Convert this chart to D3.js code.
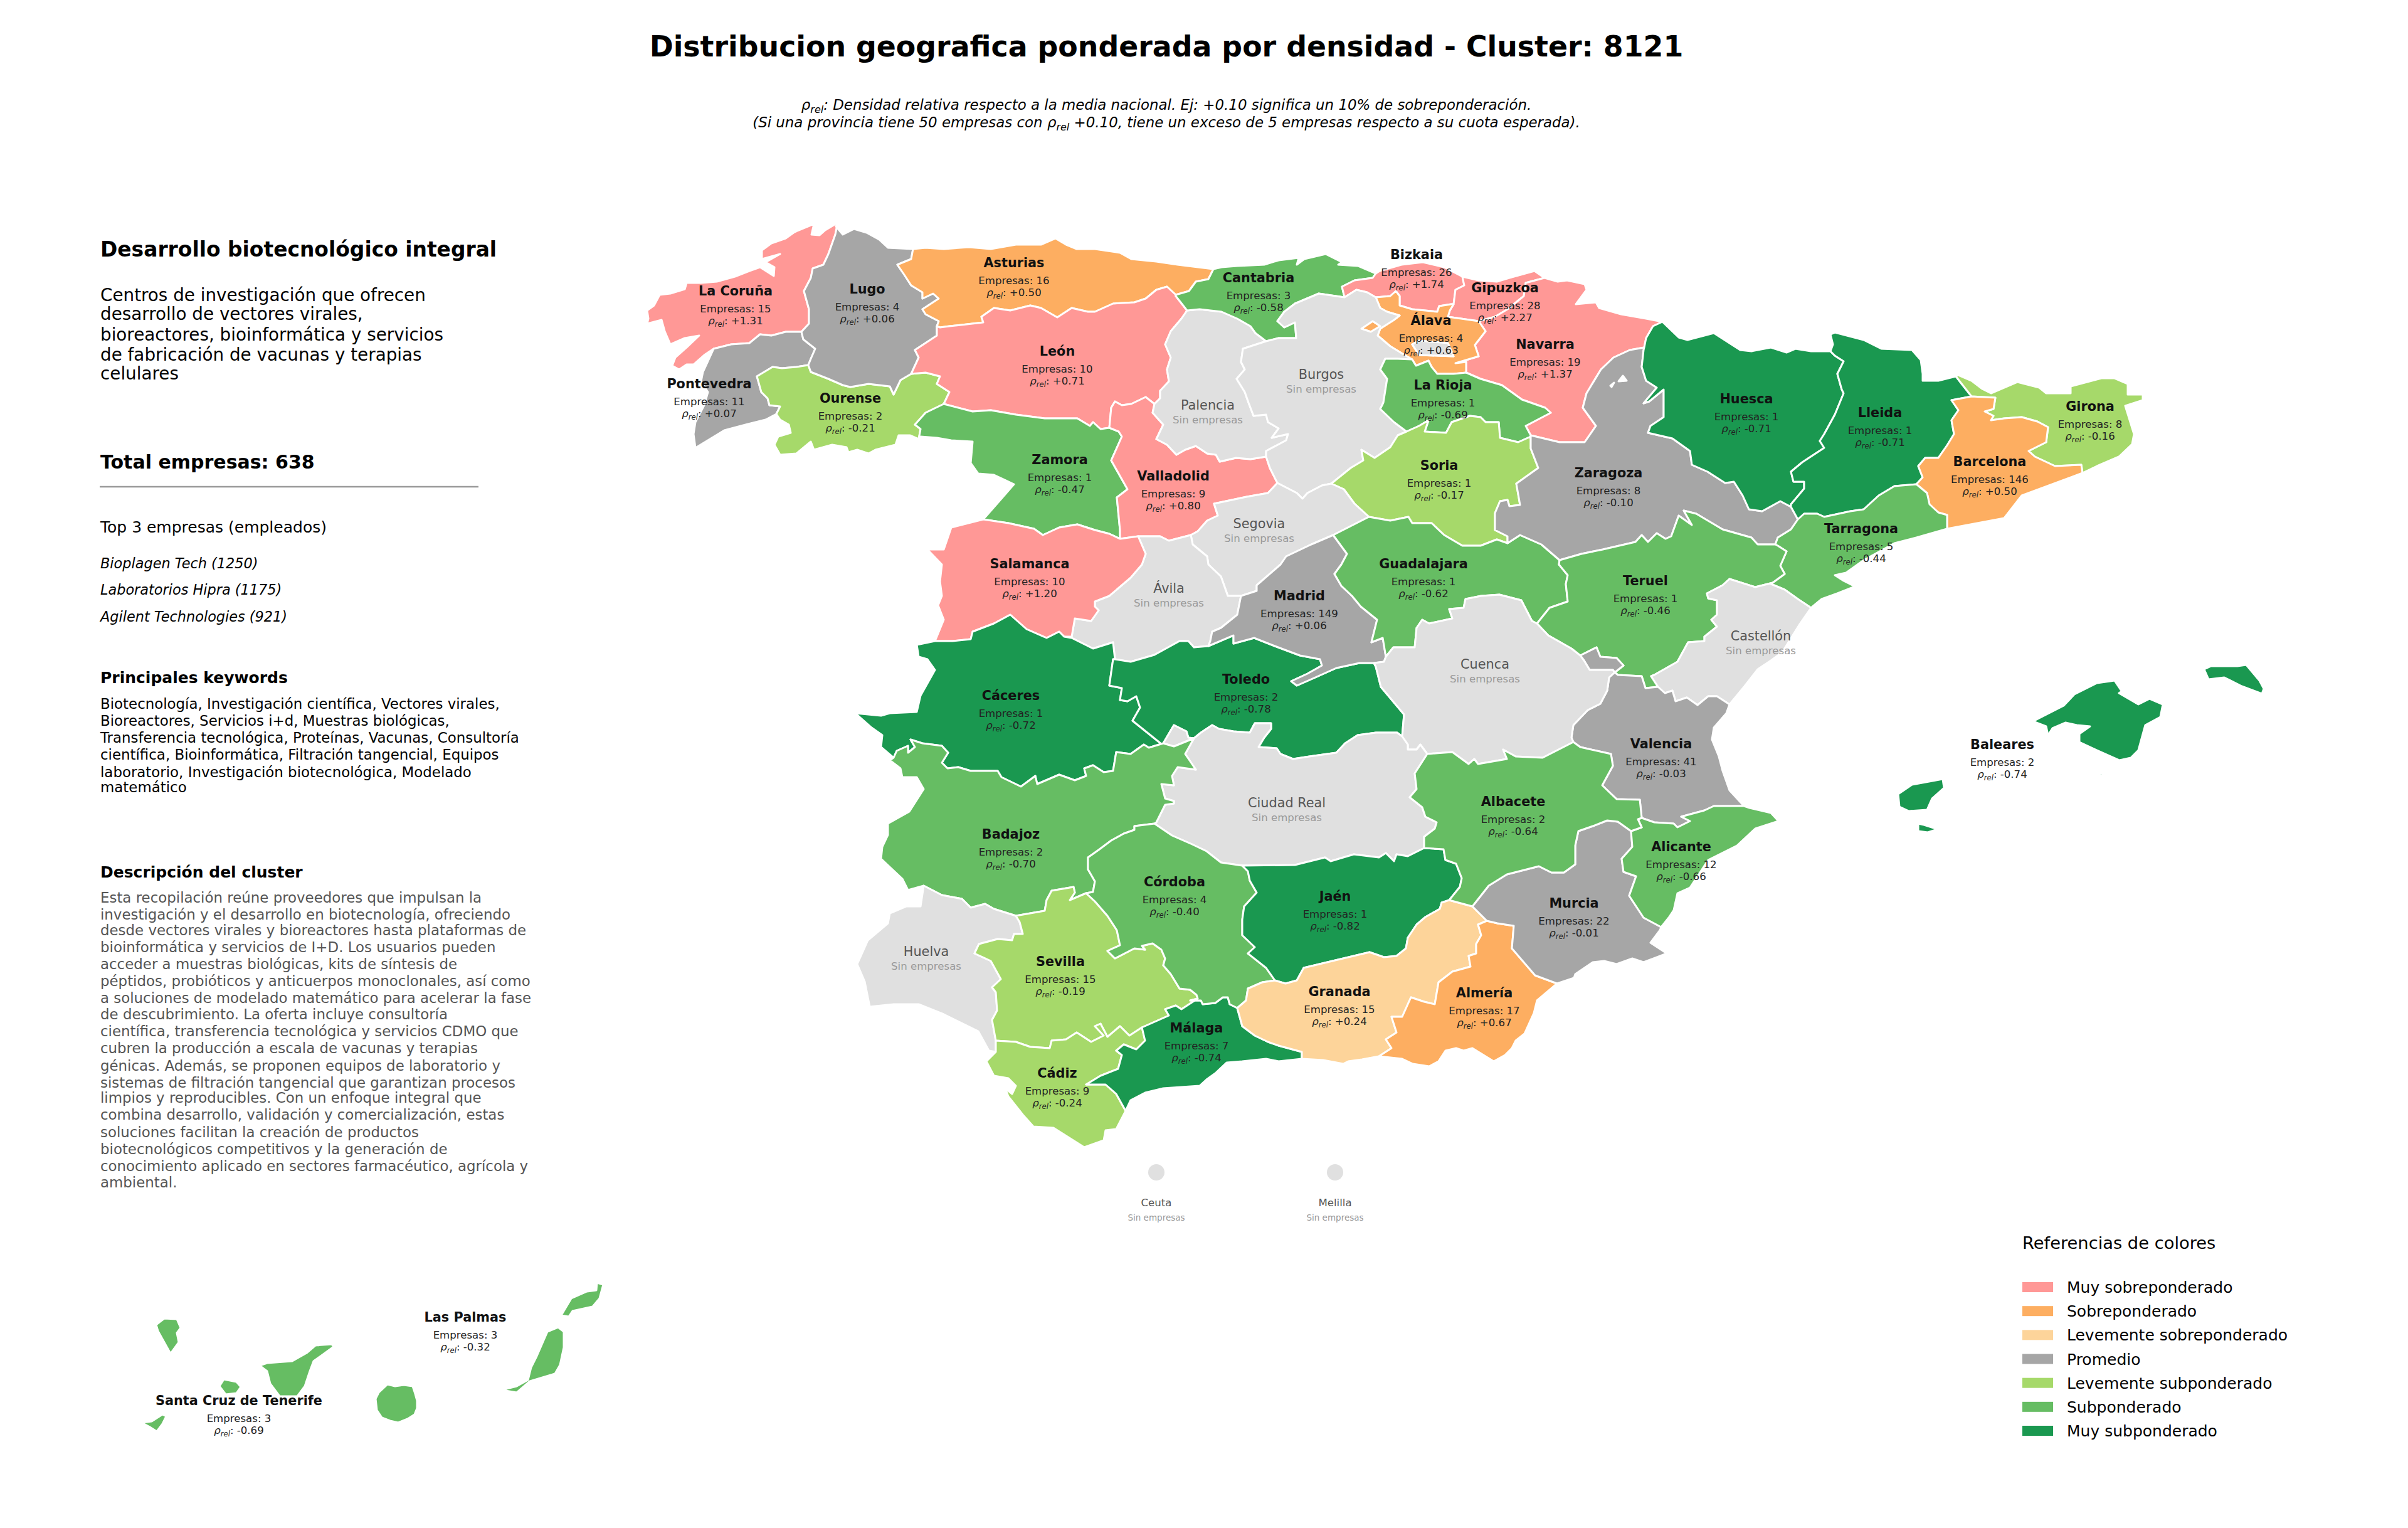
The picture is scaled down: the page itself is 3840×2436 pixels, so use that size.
<!DOCTYPE html>
<html>
<head>
<meta charset="utf-8">
<script src="https://cdn.jsdelivr.net/npm/d3@7"></script>
<style>
  body { margin: 0; background: #fff; }
  text { font-family: "DejaVu Sans", sans-serif; }
</style>
</head>
<body>
<svg id="chart" width="3840" height="2436"></svg>
<script>
// Province values
const provinces = ["La Coruña","Pontevedra","Ourense","Lugo","Asturias","León","Zamora","Valladolid","Palencia","Cantabria","Bizkaia","Gipuzkoa","Navarra","Álava","Burgos","La Rioja","Soria","Segovia","Ávila","Salamanca","Cáceres","Toledo","Madrid","Guadalajara","Zaragoza","Huesca","Lleida","Girona","Barcelona","Tarragona","Teruel","Castellón","Valencia","Cuenca","Ciudad Real","Badajoz","Huelva","Sevilla","Cádiz","Málaga","Córdoba","Jaén","Granada","Almería","Murcia","Alicante","Albacete","Baleares","Las Palmas","Santa Cruz de Tenerife"];
const empresas = [15,11,2,4,16,10,1,9,0,3,26,28,19,4,0,1,1,0,0,10,1,2,149,1,8,1,1,8,146,5,1,0,41,0,0,2,0,15,9,7,4,1,15,17,22,12,2,2,3,3];
const rhoRel = [1.31,0.07,-0.21,0.06,0.50,0.71,-0.47,0.80,null,-0.58,1.74,2.27,1.37,0.63,null,-0.69,-0.17,null,null,1.20,-0.72,-0.78,0.06,-0.62,-0.10,-0.71,-0.71,-0.16,0.50,-0.44,-0.46,null,-0.03,null,null,-0.70,null,-0.19,-0.24,-0.74,-0.40,-0.82,0.24,0.67,-0.01,-0.66,-0.64,-0.74,-0.32,-0.69];
const cities = ["Ceuta","Melilla"];

const legendLabels = ["Muy sobreponderado","Sobreponderado","Levemente sobreponderado","Promedio","Levemente subponderado","Subponderado","Muy subponderado"];
const legendColors = ["#ff9896","#fdae61","#fdd49a","#a6a6a6","#a6d96a","#66bd63","#1a9850"];
const noDataColor = "#e0e0e0";

const topCompanies = ["Bioplagen Tech (1250)","Laboratorios Hipra (1175)","Agilent Technologies (921)"];
const introLines = ["Centros de investigación que ofrecen","desarrollo de vectores virales,","bioreactores, bioinformática y servicios","de fabricación de vacunas y terapias","celulares"];
const keywordLines = ["Biotecnología, Investigación científica, Vectores virales,","Bioreactores, Servicios i+d, Muestras biológicas,","Transferencia tecnológica, Proteínas, Vacunas, Consultoría","científica, Bioinformática, Filtración tangencial, Equipos","laboratorio, Investigación biotecnológica, Modelado","matemático"];
const descriptionLines = ["Esta recopilación reúne proveedores que impulsan la","investigación y el desarrollo en biotecnología, ofreciendo","desde vectores virales y bioreactores hasta plataformas de","bioinformática y servicios de I+D. Los usuarios pueden","acceder a muestras biológicas, kits de síntesis de","péptidos, probióticos y anticuerpos monoclonales, así como","a soluciones de modelado matemático para acelerar la fase","de descubrimiento. La oferta incluye consultoría","científica, transferencia tecnológica y servicios CDMO que","cubren la producción a escala de vacunas y terapias","génicas. Además, se proponen equipos de laboratorio y","sistemas de filtración tangencial que garantizan procesos","limpios y reproducibles. Con un enfoque integral que","combina desarrollo, validación y comercialización, estas","soluciones facilitan la creación de productos","biotecnológicos competitivos y la generación de","conocimiento aplicado en sectores farmacéutico, agrícola y","ambiental."];

// Shared province borders (map units)
const borders = {
  coast_coru:"1336,355 1316,367 1307,375 1294,374 1298,357 1281,364 1267,370 1253,380 1230,388 1215,399 1215,413 1244,405 1221,418 1235,426 1234,440 1212,426 1195,432 1172,441 1143,449 1118,451 1095,451 1092,461 1069,468 1052,470 1043,487 1032,495 1034,508 1032,516 1055,510 1060,528 1069,549 1092,539 1115,535 1095,554 1077,570 1072,583 1083,589 1095,581 1106,581 1123,566 1138,556",
  coru_pont:"1138,556 1166,549 1195,547 1212,533 1230,535 1253,529 1278,529",
  coru_lugo:"1278,529 1290,516 1290,493 1282,464 1293,443 1296,428 1313,422 1321,405 1332,374 1336,355",
  coast_pont:"1138,556 1121,593 1118,608 1129,625 1123,646 1109,673 1106,692 1109,714 1132,700 1155,686 1189,677 1221,669 1238,660",
  pont_ours:"1238,660 1244,648 1227,646 1224,635 1214,625 1207,600 1232,585 1247,587 1270,585 1289,582",
  pont_lugo:"1289,582 1293,572 1300,556 1281,541 1278,529",
  port_ours:"1238,660 1244,669 1258,677 1261,690 1241,696 1235,709 1244,725 1270,723 1293,704 1298,717 1327,709 1350,713 1353,721 1367,717 1385,723 1396,717 1428,709 1433,694 1451,694 1465,700",
  ours_zam:"1465,700 1468,684 1459,677 1476,658 1505,644",
  ours_leon:"1505,644 1514,625 1494,612 1499,600 1476,594 1453,596",
  ours_lugo:"1453,596 1436,606 1425,629 1419,616 1385,612 1356,617 1344,614 1321,604 1293,593 1289,582",
  coast_lugo:"1336,355 1333,361 1344,374 1362,365 1382,371 1402,382 1416,395 1456,397",
  lugo_ast:"1456,397 1453,413 1431,422 1442,438 1453,455 1471,466 1471,476 1488,468 1497,476 1471,493 1476,501 1497,512 1494,520",
  lugo_leon:"1494,520 1494,535 1459,558 1465,570 1453,596",
  coast_ast:"1456,397 1476,395 1505,397 1545,394 1580,397 1620,390 1660,390 1683,380 1700,390 1717,397 1746,397 1786,403 1804,413 1844,417 1878,422 1935,429",
  ast_cant:"1935,429 1927,445 1907,449 1896,464 1875,470",
  ast_leon:"1875,470 1861,457 1844,462 1827,476 1809,482 1775,484 1746,497 1735,497 1709,491 1686,506 1660,491 1643,487 1611,495 1585,491 1565,505 1568,514 1514,520 1499,522 1494,520",
  cant_leon:"1875,470 1875,472 1893,495",
  leon_pal:"1893,495 1884,508 1867,528 1858,549 1867,570 1861,589 1864,608 1850,623 1850,635 1841,644",
  leon_vall:"1841,644 1827,633 1804,644 1789,646 1778,640 1772,650 1769,682",
  leon_zam:"1769,682 1755,684 1743,673 1738,679 1718,667 1666,667 1620,661 1580,654 1551,656 1505,644",
  zam_vall:"1769,682 1784,688 1789,696 1772,734 1798,780 1781,793 1786,845 1786,859",
  zam_sal:"1786,859 1769,851 1746,845 1718,836 1689,841 1663,853 1649,843 1608,834 1568,828",
  zam_port:"1568,828 1597,795 1617,772 1585,757 1560,755 1548,738 1551,704 1517,702 1494,698 1468,696 1465,700",
  pal_vall:"1841,644 1838,658 1855,677 1844,700 1861,709 1876,725 1890,717 1907,711 1925,723 1939,725 1945,736 1971,730 1994,732 2019,728",
  vall_burg:"2019,728 2025,746 2037,770",
  cant_pal:"1893,495 1913,493 1948,497 1973,508 1994,520 2002,531 2019,544",
  pal_burg:"2019,544 1982,556 1979,577 1985,589 1972,604 1985,625 1991,642 1999,663 2019,661 2022,673 2039,683 2028,698 2054,692 2051,702 2019,719 2019,728",
  coast_cant:"1935,429 1948,426 1973,424 2016,422 2039,415 2071,411 2068,422 2080,413 2114,405 2140,418 2134,422 2166,424 2194,436",
  cant_biz:"2194,436 2189,443 2160,447 2140,457 2144,474",
  cant_burg:"2144,474 2103,468 2065,484 2048,497 2037,512 2048,522 2065,514 2067,539 2039,539 2019,544",
  coast_biz:"2194,436 2200,432 2235,422 2269,418 2303,426 2332,441",
  biz_gip:"2332,441 2335,455 2321,462 2318,485",
  biz_alv:"2318,485 2314,485 2295,488 2292,497 2252,493 2232,487 2232,472 2226,464 2217,472 2194,474",
  biz_burg:"2194,474 2180,466 2163,462 2144,474",
  coast_gip:"2332,441 2358,447 2387,449 2407,443 2447,432 2463,443",
  gip_nav:"2463,443 2433,451 2430,472 2404,493 2384,505 2358,512",
  gip_alv:"2358,512 2309,505 2312,495 2318,485",
  coast_nav:"2463,443 2484,449 2499,447 2527,453 2530,462 2513,485 2545,482 2550,491 2585,501 2625,508 2651,513",
  nav_hue:"2651,513 2636,520 2625,539 2622,554",
  nav_zar:"2622,554 2599,558 2573,570 2553,589 2530,627 2524,650 2545,679 2527,705 2487,705 2441,694",
  nav_rio:"2441,694 2433,679 2473,658 2464,650 2427,637 2395,614 2361,604 2338,594",
  nav_alv:"2338,594 2338,577 2321,579 2358,568 2352,550 2369,528 2358,512",
  alv_burg:"2194,474 2201,491 2212,497 2232,503 2223,510 2201,524 2197,535 2217,552 2240,566 2252,573",
  alv_rio:"2252,573 2258,583 2278,575 2283,585 2292,596 2318,596 2338,594",
  alv_blob:"2171,524 2189,512 2201,520 2186,529",
  alv_enclave:"2252,549 2263,543 2309,547 2318,568 2263,566",
  burg_rio:"2252,573 2229,572 2209,572 2201,589 2212,604 2209,623 2206,642 2201,652 2223,673 2243,688",
  burg_soria:"2243,688 2229,694 2217,713 2192,730 2171,717 2174,734 2154,746 2123,771",
  burg_seg:"2123,771 2108,774 2085,786 2077,795 2068,786 2037,770",
  rio_soria:"2243,688 2263,679 2278,670 2272,688 2306,690 2315,673 2344,663 2361,665 2369,673 2390,673 2392,698 2421,705 2441,696",
  soria_zar:"2441,696 2441,715 2453,746 2418,771 2424,805 2407,807 2404,797 2392,799 2384,818 2384,845 2404,855 2404,866",
  soria_guad:"2404,866 2387,860 2361,870 2332,870 2303,853 2283,834 2252,834 2246,824 2217,830 2183,824",
  soria_seg:"2183,824 2160,803 2143,780 2123,771",
  seg_mad:"1979,950 2004,942 2004,933 2042,900 2051,887 2091,868 2126,853",
  guad_seg:"2126,853 2183,824",
  seg_avila:"1979,950 1958,950 1947,919 1927,900 1925,887 1902,868 1899,853",
  val_seg:"1899,853 1910,847 1925,830 1942,822 1936,803 1988,792 2022,786 2037,770",
  sal_vall:"1786,859 1815,855",
  avila_vall:"1815,855 1850,855 1864,862 1899,853",
  avila_mad:"1979,950 1973,980 1947,1001 1933,1007 1930,1022 1927,1030",
  avila_tol:"1927,1030 1904,1032 1895,1022 1881,1022 1841,1044 1803,1055 1778,1051",
  avila_cac:"1778,1051 1775,1024 1743,1034 1709,1017 1697,1015",
  sal_avila:"1815,855 1827,883 1821,900 1803,921 1769,950 1746,959 1746,967 1752,973 1740,990 1714,986 1709,1015 1697,1015",
  sal_cac:"1491,1022 1519,1022 1548,1019 1551,1007 1585,994 1611,980 1637,1003 1669,1017 1689,1007 1697,1015",
  sal_port:"1491,1022 1505,988 1496,965 1502,950 1499,927 1502,900 1479,876 1505,876 1517,841 1568,828",
  cac_port:"1491,1022 1462,1028 1465,1047 1479,1051 1491,1068 1468,1109 1462,1135 1419,1137 1405,1141 1364,1137 1390,1160 1407,1172 1405,1191 1425,1208",
  cac_bad:"1425,1208 1430,1197 1448,1189 1448,1200 1459,1191 1452,1179 1471,1185 1502,1189 1512,1200 1502,1216 1511,1225 1528,1223 1548,1229 1591,1229 1597,1239 1628,1254 1651,1237 1654,1250 1689,1235 1714,1244 1732,1237 1729,1225 1743,1220 1760,1231 1775,1229 1780,1199 1803,1202 1824,1187 1832,1192 1852,1186",
  cac_tol:"1852,1186 1806,1149 1818,1128 1812,1110 1798,1118 1786,1116 1789,1097 1769,1093 1775,1051",
  mad_tol:"1927,1030 1967,1013 1967,1026 2000,1017 2033,1030 2073,1045 2105,1051 2108,1061 2085,1074 2059,1086 2068,1093 2102,1078 2131,1065 2168,1057 2191,1057",
  tol_cue:"2191,1057 2194,1063 2202,1095 2239,1139 2236,1174",
  tol_cr:"2236,1174 2228,1168 2194,1168 2165,1172 2145,1185 2131,1200 2088,1206 2062,1210 2042,1202 2036,1193 2007,1191 2016,1176 2027,1162 2027,1153 2001,1153 1993,1168 1967,1166 1944,1162 1933,1156 1915,1168 1904,1177",
  tol_wedge:"1904,1177 1895,1176 1892,1166 1872,1156 1855,1185",
  bad_wedge:"1855,1185 1872,1190 1904,1177",
  mad_guad:"2126,853 2148,883 2139,900 2128,915 2139,934 2156,950 2170,967 2196,988 2187,1024 2205,1017 2210,1047",
  mad_cue:"2210,1047 2207,1055 2191,1057",
  guad_cue:"2210,1047 2222,1032 2256,1032 2259,1001 2268,988 2279,994 2316,986 2311,971 2334,969 2337,955 2362,950 2391,948 2426,957 2443,990 2451,994",
  ter_guad:"2487,893 2486,900 2500,917 2497,931 2500,959 2471,969 2451,994",
  guad_zar:"2404,866 2424,853 2458,868 2487,893",
  hue_zar:"2622,554 2621,558 2618,585 2625,607 2642,618 2621,643 2630,640 2653,621 2653,665 2632,679 2628,690 2667,699 2695,719 2698,741 2723,752 2751,770 2765,768 2779,790 2789,812 2810,815 2839,799 2856,808",
  zar_hole1:"2581,608 2588,599 2594,607",
  zar_hole2:"2568,615 2574,610 2570,617",
  zar_lle:"2856,808 2867,828",
  zar_tar:"2867,828 2856,844 2835,857 2831,868",
  zar_ter:"2831,868 2803,868 2793,857 2747,844 2705,819 2685,814 2698,837 2677,822 2665,855 2656,859 2642,850 2628,864 2618,853 2608,864 2556,876 2522,883 2487,893",
  coast_hue:"2651,513 2677,538 2691,542 2733,531 2775,558 2793,560 2824,554 2849,562 2863,556 2888,560 2919,560",
  hue_lle:"2919,560 2926,567 2940,576 2930,596 2937,621 2940,627 2926,661 2909,692 2902,703 2909,714 2874,737 2856,752 2860,768 2877,768 2877,779 2856,804 2856,808",
  coast_lle:"2919,560 2923,549 2919,533 2926,530 2972,542 3000,556 3049,558 3063,574 3066,596 3066,607 3091,607 3119,600",
  lle_gir:"3119,600 3133,618 3144,632",
  lle_bcn:"3144,632 3112,638 3123,654 3112,670 3116,692 3105,710 3091,730 3070,730 3059,743 3066,761 3056,772",
  lle_tar:"3056,772 3021,775 2996,790 2972,812 2951,815 2909,824 2898,819 2877,819 2867,828",
  coast_tar:"3105,843 3056,857 3021,866 2972,893 2944,913 2926,917 2940,926 2958,935 2930,946 2905,955 2888,969",
  tar_cast:"2888,969 2867,955 2846,940 2824,931",
  tar_ter:"2824,931 2846,915 2839,902 2849,879 2835,870 2831,868",
  tar_bcn:"3105,843 3105,821 3091,817 3077,804 3073,786 3056,772",
  bcn_gir:"3144,632 3182,634 3179,652 3165,656 3179,663 3175,670 3196,667 3224,665 3249,672 3266,681 3263,705 3235,719 3245,728 3277,743 3319,741 3321,754",
  coast_bcn:"3321,754 3224,790 3196,826 3105,843",
  coast_gir:"3321,754 3344,743 3379,728 3400,708 3403,692 3389,647 3417,638 3417,629 3393,629 3393,612 3372,603 3351,603 3302,616 3302,627 3263,627 3252,618 3217,609 3196,618 3175,627 3161,620 3144,607 3123,598",
  ter_cast:"2824,931 2827,929 2799,936 2758,923 2747,933 2722,946 2724,954 2738,957 2738,980 2729,988 2738,999 2718,1015 2718,1022 2692,1024 2675,1055 2638,1076 2633,1078 2644,1095",
  ter_val:"2644,1095 2624,1097 2618,1078 2580,1076 2575,1072",
  ter_adem:"2575,1072 2589,1061 2578,1049 2552,1047 2546,1032 2520,1045",
  cue_adem:"2520,1045 2526,1053 2535,1068 2572,1068",
  ter_cue:"2451,994 2469,1013 2506,1034 2520,1045",
  cue_val:"2575,1072 2566,1080 2563,1101 2552,1122 2532,1132 2509,1156 2506,1176 2509,1183",
  coast_cast:"2888,969 2870,995 2842,1040 2824,1053 2803,1067 2782,1094 2758,1123",
  cast_val:"2758,1123 2738,1110 2724,1110 2707,1124 2690,1112 2672,1118 2667,1101 2655,1105 2644,1095",
  coast_val:"2758,1123 2753,1137 2733,1160 2730,1179 2741,1206 2747,1229 2758,1260 2781,1285",
  val_ali:"2781,1285 2773,1285 2750,1285 2733,1285 2718,1292 2681,1302 2695,1309 2675,1319 2669,1313 2638,1311 2618,1304",
  val_alb:"2618,1304 2615,1275 2578,1274 2555,1252 2572,1221 2569,1202 2520,1191 2509,1183",
  coast_ali:"2781,1285 2790,1288 2824,1296 2836,1309 2799,1321 2770,1348 2724,1371 2695,1415 2675,1424 2669,1451 2661,1463 2649,1478",
  ali_mur:"2649,1478 2621,1463 2598,1428 2609,1397 2589,1390 2586,1369 2603,1350 2601,1325",
  ali_alb:"2601,1325 2618,1319 2612,1306 2618,1304",
  coast_mur:"2649,1478 2647,1483 2632,1503 2658,1520 2621,1534 2603,1528 2578,1537 2558,1532 2540,1534 2512,1553 2510,1559 2483,1568",
  mur_alm:"2483,1568 2448,1555 2411,1512 2414,1476 2388,1472 2371,1468",
  mur_gra:"2371,1468 2348,1445",
  mur_alb:"2348,1445 2374,1412 2403,1394 2454,1381 2474,1391 2494,1391 2512,1378 2512,1348 2517,1325 2540,1317 2563,1308 2580,1310 2601,1325",
  cue_alb:"2509,1183 2460,1208 2417,1206 2397,1195 2403,1210 2357,1218 2351,1210 2342,1218 2316,1199 2276,1202",
  cue_cr:"2276,1202 2265,1187 2259,1195 2245,1195 2245,1187 2236,1174",
  alb_cr:"2276,1202 2256,1233 2259,1258 2248,1271 2268,1287 2273,1302 2291,1311 2288,1321 2271,1334 2271,1352",
  alb_jaen:"2271,1352 2302,1354 2305,1371 2322,1377 2331,1400 2328,1414 2311,1435",
  alb_gra:"2311,1435 2348,1445",
  cr_bad:"1904,1177 1890,1202 1907,1227 1878,1223 1869,1237 1872,1252 1852,1250 1858,1273 1872,1277 1872,1281 1858,1283 1844,1311 1841,1313",
  cr_cor:"1841,1313 1869,1332 1901,1346 1924,1357 1947,1375 1981,1380",
  cr_jaen:"1981,1380 2065,1379 2113,1367 2122,1373 2159,1362 2199,1367 2210,1360 2223,1373 2227,1362 2245,1365 2271,1352",
  bad_cor:"1841,1313 1809,1317 1809,1323 1792,1329 1772,1340 1752,1355 1735,1367 1735,1386 1746,1405 1743,1422 1732,1424",
  bad_sev:"1732,1424 1706,1435 1714,1423 1712,1414 1677,1420 1669,1435 1666,1452 1620,1460",
  bad_hue:"1620,1460 1585,1449 1571,1441 1548,1447 1534,1433 1502,1427 1473,1412",
  bad_port:"1473,1412 1448,1419 1439,1401 1405,1369 1407,1350 1416,1331 1416,1313 1450,1294 1473,1258 1462,1239 1439,1239 1436,1225 1419,1212 1425,1208",
  hue_coast:"1473,1412 1468,1445 1445,1445 1419,1456 1416,1472 1384,1499 1367,1537 1379,1565 1387,1605 1425,1601 1465,1601 1505,1617 1560,1644 1577,1675 1588,1677",
  hue_cad:"1588,1677 1588,1659",
  hue_sev:"1588,1659 1582,1626 1590,1611 1588,1582 1582,1574 1596,1561 1580,1532 1554,1520 1561,1505 1591,1497 1614,1499 1617,1489 1631,1489 1626,1470 1620,1460",
  sev_cor:"1732,1424 1746,1437 1766,1460 1781,1483 1786,1507 1766,1516 1778,1528 1809,1512 1826,1514 1821,1508 1838,1504 1852,1514 1858,1528 1855,1539 1867,1553 1881,1576 1898,1578 1908,1586 1910,1592",
  sev_mal:"1910,1592 1884,1609 1875,1603 1858,1609 1864,1619 1821,1638",
  sev_cad:"1821,1638 1801,1651 1786,1636 1766,1653 1755,1632 1746,1636 1760,1651 1740,1661 1717,1646 1700,1657 1677,1659 1674,1671 1643,1669 1620,1661 1588,1659",
  coast_cad:"1588,1677 1573,1692 1585,1715 1608,1719 1620,1731 1614,1744 1603,1735 1608,1748 1631,1777 1648,1796 1680,1798 1729,1829 1760,1818 1763,1802 1780,1800 1795,1771",
  cad_mal:"1795,1771 1780,1744 1763,1729 1732,1729 1755,1715 1783,1704 1789,1682 1780,1675 1792,1665 1812,1673 1826,1659 1821,1638",
  coast_mal:"1795,1771 1803,1754 1826,1742 1855,1735 1884,1733 1913,1731 1924,1721 1938,1711 1956,1694 1981,1692 2019,1688 2039,1692 2076,1688",
  mal_gra:"2076,1688 2076,1677 2039,1667 2022,1661 2001,1651 1981,1636 1973,1607",
  mal_cor:"1973,1607 1961,1601 1958,1590 1950,1590 1938,1599 1918,1601 1915,1595 1898,1595 1910,1592",
  cor_jaen:"1981,1380 1990,1389 1993,1404 2004,1423 1984,1445 1981,1466 1981,1491 2001,1510 1990,1520 2019,1543 2033,1563",
  cor_gra:"2033,1563 2013,1566 1990,1576 1987,1595 1973,1607",
  jaen_gra:"2311,1435 2299,1439 2296,1449 2273,1462 2259,1474 2245,1495 2242,1512 2227,1524 2207,1526 2184,1518 2125,1532 2079,1543 2068,1563 2050,1568 2033,1563",
  gra_alm:"2371,1468 2357,1474 2362,1491 2354,1505 2354,1520 2342,1524 2345,1541 2316,1549 2294,1566 2288,1601 2271,1597 2250,1590 2236,1621 2219,1621 2227,1646 2210,1657 2219,1671 2199,1684",
  coast_gra:"2199,1684 2172,1689 2150,1692 2142,1696 2110,1690 2076,1688",
  coast_alm:"2483,1568 2451,1595 2446,1615 2431,1648 2417,1659 2411,1671 2400,1682 2382,1692 2348,1671 2334,1675 2322,1671 2305,1675 2294,1692 2279,1700 2253,1696 2236,1688 2199,1684",
  mallorca:"3242,1150 3291,1125 3308,1107 3344,1089 3372,1085 3382,1100 3396,1094 3379,1105 3410,1123 3428,1114 3449,1123 3445,1143 3421,1156 3410,1196 3398,1208 3380,1212 3344,1196 3316,1183 3316,1170 3333,1158 3312,1156 3294,1152 3273,1161 3266,1172 3263,1158",
  menorca:"3515,1067 3526,1062 3568,1062 3582,1060 3603,1085 3610,1098 3607,1106 3575,1094 3547,1080 3522,1083",
  ibiza:"3027,1266 3049,1251 3098,1242 3100,1256 3081,1273 3073,1291 3044,1293 3029,1286",
  formentera:"3059,1313 3068,1315 3090,1322 3074,1327 3059,1325",
  cabrera:"3345,1233 3353,1232 3352,1237",
  la_palma:"249,2112 262,2102 282,2103 288,2117 282,2125 285,2140 272,2158 262,2140 252,2122",
  tenerife:"414,2177 426,2173 466,2170 489,2157 503,2145 529,2143 532,2147 500,2170 494,2186 486,2210 474,2226 446,2226 431,2206 426,2186",
  gomera:"350,2210 357,2199 377,2203 384,2211 377,2221 360,2223",
  hierro:"226,2268 242,2266 259,2255 265,2258 259,2270 250,2282 239,2275",
  gran_canaria:"599,2230 604,2220 618,2207 630,2210 644,2208 658,2210 662,2222 665,2233 665,2245 661,2255 650,2262 635,2268 622,2265 609,2260 601,2248",
  fuerteventura:"800,2216 824,2210 842,2200 847,2180 856,2162 873,2123 890,2116 899,2123 899,2148 893,2176 885,2190 845,2202 824,2220",
  lanzarote:"895,2097 911,2070 936,2059 951,2057 952,2045 962,2048 956,2070 945,2083 913,2090 907,2099",
  graciosa:"949,2042 952,2037 953,2042"
};

// Which borders close each province; "-" walks a border backwards, one list per ring
const provinceRings = [
  [["coast_coru","coru_pont","coru_lugo"]],
  [["coast_pont","pont_ours","pont_lugo","-coru_pont"]],
  [["port_ours","ours_zam","ours_leon","ours_lugo","-pont_ours"]],
  [["coast_lugo","lugo_ast","lugo_leon","ours_lugo","pont_lugo","coru_lugo"]],
  [["coast_ast","ast_cant","ast_leon","-lugo_ast"]],
  [["-ast_leon","cant_leon","leon_pal","leon_vall","leon_zam","ours_leon","-lugo_leon"]],
  [["-leon_zam","zam_vall","zam_sal","zam_port","ours_zam"]],
  [["-leon_vall","pal_vall","vall_burg","-val_seg","-avila_vall","-sal_vall","-zam_vall"]],
  [["cant_pal","pal_burg","-pal_vall","-leon_pal"]],
  [["coast_cant","cant_biz","cant_burg","-cant_pal","-cant_leon","-ast_cant"]],
  [["coast_biz","biz_gip","biz_alv","biz_burg","-cant_biz"]],
  [["coast_gip","gip_nav","gip_alv","-biz_gip"]],
  [["coast_nav","nav_hue","nav_zar","nav_rio","nav_alv","-gip_nav"]],
  [["alv_burg","alv_rio","nav_alv","gip_alv","biz_alv"],["alv_blob"],["alv_enclave"]],
  [["-biz_burg","alv_burg","burg_rio","burg_soria","burg_seg","-vall_burg","-pal_burg","-cant_burg"],["alv_blob"],["alv_enclave"]],
  [["-burg_rio","alv_rio","-nav_rio","-rio_soria"]],
  [["rio_soria","soria_zar","soria_guad","soria_seg","-burg_soria"]],
  [["burg_seg","-val_seg","-seg_avila","seg_mad","guad_seg","soria_seg"]],
  [["avila_vall","-seg_avila","avila_mad","avila_tol","avila_cac","-sal_avila"]],
  [["sal_vall","sal_avila","-sal_cac","sal_port","-zam_sal"]],
  [["cac_port","cac_bad","cac_tol","avila_cac","-sal_cac"]],
  [["mad_tol","tol_cue","tol_cr","tol_wedge","cac_tol","-avila_tol"]],
  [["seg_mad","mad_guad","mad_cue","-mad_tol","-avila_mad"]],
  [["guad_seg","-soria_guad","guad_zar","ter_guad","-guad_cue","-mad_guad"]],
  [["-nav_zar","hue_zar","zar_lle","zar_tar","zar_ter","-guad_zar","-soria_zar"],["zar_hole1"],["zar_hole2"]],
  [["coast_hue","hue_lle","-hue_zar","-nav_hue"]],
  [["coast_lle","lle_gir","lle_bcn","lle_tar","-zar_lle","-hue_lle"]],
  [["bcn_gir","coast_gir","lle_gir"]],
  [["bcn_gir","coast_bcn","tar_bcn","-lle_bcn"]],
  [["-lle_tar","-tar_bcn","coast_tar","tar_cast","tar_ter","-zar_tar"]],
  [["-zar_ter","-tar_ter","ter_cast","ter_val","ter_adem","-ter_cue","-ter_guad"]],
  [["coast_cast","cast_val","-ter_cast","-tar_cast"]],
  [["-ter_val","-cast_val","coast_val","val_ali","val_alb","-cue_val"],["cue_adem","ter_adem"]],
  [["guad_cue","ter_cue","cue_adem","cue_val","cue_alb","cue_cr","-tol_cue","-mad_cue"]],
  [["cr_bad","cr_cor","cr_jaen","-alb_cr","cue_cr","tol_cr"],["tol_wedge","bad_wedge"]],
  [["cac_bad","bad_wedge","cr_bad","bad_cor","bad_sev","bad_hue","bad_port"]],
  [["bad_hue","hue_coast","hue_cad","hue_sev"]],
  [["-bad_sev","sev_cor","sev_mal","sev_cad","hue_sev"]],
  [["hue_cad","-sev_cad","-cad_mal","-coast_cad"]],
  [["coast_mal","mal_gra","mal_cor","sev_mal","-cad_mal"]],
  [["-bad_cor","cr_cor","cor_jaen","cor_gra","mal_cor","-sev_cor"]],
  [["cr_jaen","alb_jaen","jaen_gra","-cor_jaen"]],
  [["alb_gra","-mur_gra","gra_alm","coast_gra","mal_gra","-cor_gra","-jaen_gra"]],
  [["-mur_alm","coast_alm","-gra_alm"]],
  [["-ali_mur","coast_mur","mur_alm","mur_gra","mur_alb"]],
  [["coast_ali","ali_mur","ali_alb","-val_ali"]],
  [["cue_alb","alb_cr","alb_jaen","alb_gra","mur_alb","ali_alb","val_alb"]],
  [["mallorca"],["menorca"],["ibiza"],["formentera"],["cabrera"]],
  [["gran_canaria"],["fuerteventura"],["lanzarote"],["graciosa"]],
  [["la_palma"],["tenerife"],["gomera"],["hierro"]]
];

// Label anchors (map units), same order as provinces
const labelAnchors = [[1173,464],[1131,612],[1356,635],[1383,461],[1617,419],[1686,560],[1690,733],[1871,759],[1926,646],[2007,443],[2259,406],[2400,459],[2464,549],[2282,511],[2107,597],[2301,614],[2295,742],[2008,835],[1864,938],[1642,899],[1612,1109],[1987,1083],[2072,950],[2270,899],[2565,754],[2785,636],[2998,658],[3333,648],[3173,736],[2968,843],[2624,926],[2808,1014],[2649,1186],[2368,1059],[2052,1280],[1612,1330],[1477,1517],[1691,1533],[1686,1711],[1908,1639],[1873,1406],[2129,1429],[2136,1581],[2367,1583],[2510,1440],[2681,1350],[2413,1278],[3193,1187],[742,2100],[381,2233]];
const cityPoints = [[1844,1869],[2129,1869]];

const width = 3840, height = 2436;
const svg = d3.select("#chart");

// Colour class by relative density
const densityColor = d3.scaleThreshold()
    .domain([-0.705, -0.3, -0.105, 0.105, 0.3, 0.7])
    .range(legendColors.slice().reverse());

// Turn border names into closed rings
function borderPoints(name) {
    const rev = name.startsWith("-");
    const pts = borders[rev ? name.slice(1) : name].split(" ").map(p => p.split(",").map(Number));
    return rev ? pts.reverse() : pts;
}
function closedRing(names) {
    const ring = names.flatMap(borderPoints);
    ring.push(ring[0]);
    return ring;
}

const features = provinces.map((name, i) => ({
    type: "Feature",
    properties: { name: name, rho: rhoRel[i] },
    geometry: { type: "Polygon", coordinates: provinceRings[i].map(closedRing) }
}));

const geoPath = d3.geoPath(d3.geoIdentity());

svg.append("g").selectAll("path")
    .data(features)
    .join("path")
    .attr("d", geoPath)
    .attr("fill", d => d.properties.rho === null ? noDataColor : densityColor(d.properties.rho))
    .attr("fill-rule", "evenodd")
    .attr("stroke", "#fff")
    .attr("stroke-width", 3)
    .attr("stroke-linejoin", "round");

// Ceuta and Melilla
svg.append("g").selectAll("path")
    .data(cityPoints)
    .join("path")
    .attr("d", d => d3.geoPath(d3.geoIdentity()).pointRadius(13)({ type: "Point", coordinates: d }))
    .attr("fill", noDataColor);

// rho_rel in matplotlib mathtext style
function appendRho(text, size) {
    text.append("tspan").attr("font-style", "italic").text("ρ");
    text.append("tspan").attr("font-style", "italic").attr("font-size", size * 0.7).attr("dy", size * 0.22).text("rel");
}

// d3.format gives a typographic minus, the picture has a plain hyphen
const formatRho = v => d3.format("+.2f")(v).replace("\u2212", "-");

const labels = svg.append("g").attr("text-anchor", "middle");
provinces.forEach((name, i) => {
    const [x, y] = labelAnchors[i];
    if (rhoRel[i] === null) {
        labels.append("text").attr("x", x).attr("y", y + 7).attr("font-size", 20.8).attr("fill", "#555").text(name);
        labels.append("text").attr("x", x).attr("y", y + 29).attr("font-size", 16.6).attr("fill", "#999").text("Sin empresas");
        return;
    }
    labels.append("text").attr("x", x).attr("y", y + 7).attr("font-size", 20.8).attr("font-weight", "bold").attr("fill", "#111").text(name);
    labels.append("text").attr("x", x).attr("y", y + 34).attr("font-size", 16.6).attr("fill", "#222").text("Empresas: " + empresas[i]);
    const rho = labels.append("text").attr("x", x).attr("y", y + 53).attr("font-size", 16.6).attr("fill", "#222");
    appendRho(rho, 16.6);
    rho.append("tspan").attr("dy", -16.6 * 0.22).text(": " + formatRho(rhoRel[i]));
});
cities.forEach((name, i) => {
    const x = cityPoints[i][0];
    labels.append("text").attr("x", x).attr("y", 1923).attr("font-size", 16.6).attr("fill", "#555").text(name);
    labels.append("text").attr("x", x).attr("y", 1946).attr("font-size", 13.5).attr("fill", "#999").text("Sin empresas");
});

// Title block
svg.append("text").attr("x", 1860).attr("y", 90).attr("text-anchor", "middle")
    .attr("font-size", 45.8).attr("font-weight", "bold").attr("fill", "#000")
    .text("Distribucion geografica ponderada por densidad - Cluster: 8121");

const noteSize = 22.9;
const note1 = svg.append("text").attr("x", 1860).attr("y", 175).attr("text-anchor", "middle").attr("font-size", noteSize).attr("font-style", "italic");
appendRho(note1, noteSize);
note1.append("tspan").attr("dy", -noteSize * 0.22).text(": Densidad relativa respecto a la media nacional. Ej: +0.10 significa un 10% de sobreponderación.");
const note2 = svg.append("text").attr("x", 1860).attr("y", 203).attr("text-anchor", "middle").attr("font-size", noteSize).attr("font-style", "italic");
note2.append("tspan").text("(Si una provincia tiene 50 empresas con ");
appendRho(note2, noteSize);
note2.append("tspan").attr("dy", -noteSize * 0.22).text(" +0.10, tiene un exceso de 5 empresas respecto a su cuota esperada).");

// Left panel
const panelX = 160;
function panelText(y, size, str, opts = {}) {
    return svg.append("text").attr("x", panelX).attr("y", y).attr("font-size", size)
        .attr("font-weight", opts.bold ? "bold" : null)
        .attr("font-style", opts.italic ? "italic" : null)
        .attr("fill", opts.fill || "#000")
        .text(str);
}
panelText(409, 32.9, "Desarrollo biotecnológico integral", { bold: true });
const introY = [480, 510, 543, 575, 605];
introLines.forEach((line, i) => panelText(introY[i], 27.8, line));
panelText(747, 30, "Total empresas: 638", { bold: true });
svg.append("line").attr("x1", 159).attr("x2", 763).attr("y1", 776).attr("y2", 776).attr("stroke", "#999").attr("stroke-width", 2.5);
panelText(849, 25, "Top 3 empresas (empleados)");
const topY = [906, 948, 991];
topCompanies.forEach((line, i) => panelText(topY[i], 22.4, line, { italic: true }));
panelText(1089, 25, "Principales keywords", { bold: true });
const keywordY = [1130, 1157, 1184, 1211, 1239, 1263];
keywordLines.forEach((line, i) => panelText(keywordY[i], 22.9, line));
panelText(1399, 25, "Descripción del cluster", { bold: true });
const descriptionY = [1439, 1466, 1491, 1518, 1545, 1572, 1599, 1625, 1652, 1679, 1707, 1734, 1758, 1785, 1813, 1840, 1867, 1893];
descriptionLines.forEach((line, i) => panelText(descriptionY[i], 22.9, line, { fill: "#555" }));

// Legend
svg.append("text").attr("x", 3225).attr("y", 1991).attr("font-size", 27.3).attr("fill", "#000").text("Referencias de colores");
const legendY = d3.scalePoint().domain(legendLabels).range([2052, 2281]);
const legend = svg.append("g").selectAll("g").data(legendLabels).join("g")
    .attr("transform", d => `translate(3225,${legendY(d)})`);
legend.append("rect").attr("x", 0).attr("y", -8).attr("width", 49).attr("height", 16)
    .attr("fill", (d, i) => legendColors[i]);
legend.append("text").attr("x", 71).attr("y", 9).attr("font-size", 25).attr("fill", "#000").text(d => d);
</script>
</body>
</html>
